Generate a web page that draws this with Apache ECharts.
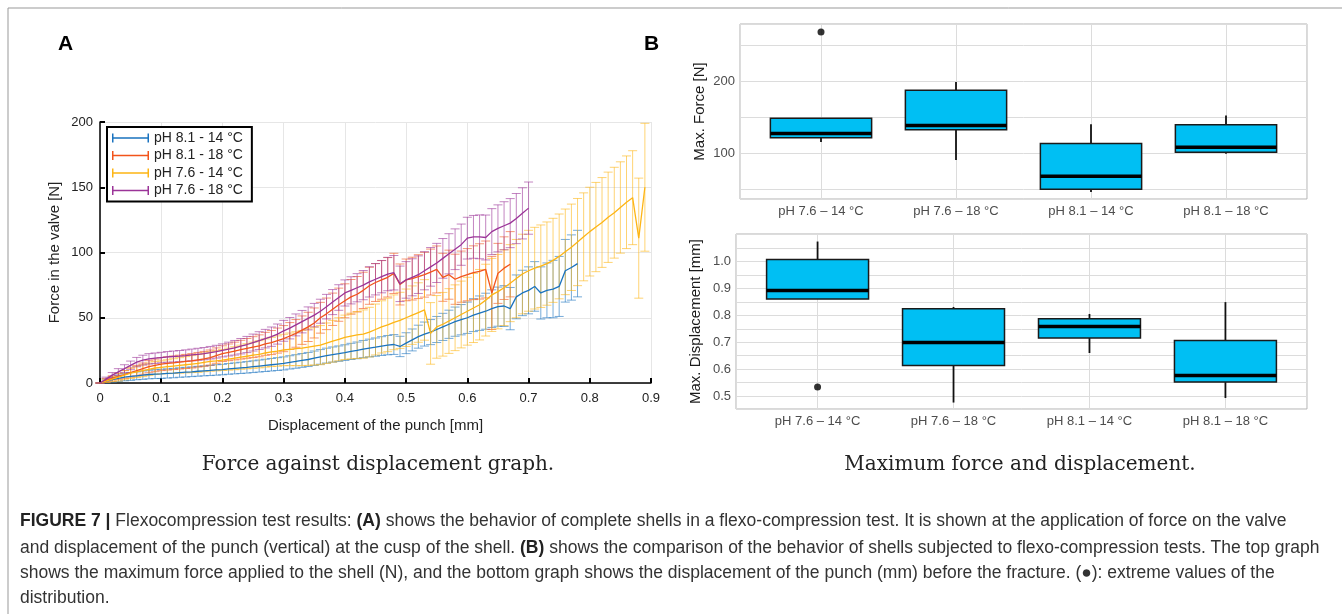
<!DOCTYPE html>
<html>
<head>
<meta charset="utf-8">
<script src="https://cdn.jsdelivr.net/npm/echarts@6/dist/echarts.min.js"></script>
<style>
html, body { margin: 0; padding: 0; background: #fff; }
#fig { width: 1342px; height: 614px; }
</style>
</head>
<body>
<div id="fig"></div>
<script>
// displacement of the punch [mm], common sampling grid
var disp = [0,0.01,0.02,0.03,0.04,0.05,0.06,0.07,0.08,0.09,
  0.1,0.11,0.12,0.13,0.14,0.15,0.16,0.17,0.18,0.19,
  0.2,0.21,0.22,0.23,0.24,0.25,0.26,0.27,0.28,0.29,
  0.3,0.31,0.32,0.33,0.34,0.35,0.36,0.37,0.38,0.39,
  0.4,0.41,0.42,0.43,0.44,0.45,0.46,0.47,0.48,0.49,
  0.5,0.51,0.52,0.53,0.54,0.55,0.56,0.57,0.58,0.59,
  0.6,0.61,0.62,0.63,0.64,0.65,0.66,0.67,0.68,0.69,
  0.7,0.71,0.72,0.73,0.74,0.75,0.76,0.77,0.78,0.79,
  0.8,0.81,0.82,0.83,0.84,0.85,0.86,0.87,0.88,0.89];

// pH 8.1 - 14 °C
var f81_14 = [0,1.5,2.5,3.5,4.5,5,5.5,6,6.5,6.8,
  7,7.3,7.6,8,8.3,8.6,9,9.3,9.6,10,
  10.3,10.8,11.2,11.6,12,12.5,13,13.5,14,14.5,
  15,15.8,16.5,17.3,18,19,20,21,21.8,22.5,
  23.3,24.2,25,26,26.8,27.5,28.3,29,29.5,28,
  30.5,33,35.5,37.5,39,41,43,45,47,48.5,
  50,52,53.5,55,57,58.5,59,57,66,69,
  71,74,69,71,72,74,86,88.5,91.5];
var e81_14 = [0,1.5,2,2.5,2.8,3,3,3.2,3.3,3.4,
  3.5,3.5,3.6,3.6,3.7,3.7,3.8,3.8,3.9,4,
  4,4.1,4.2,4.3,4.4,4.5,4.6,4.7,4.8,4.9,
  5,5.1,5.2,5.3,5.4,5.5,5.6,5.7,5.8,5.9,
  6,6.2,6.4,6.6,6.8,7,7.2,7.4,7.6,7.8,
  8,8.4,8.8,9.2,9.6,10,10.4,10.8,11.2,11.6,
  12,12.6,13.2,13.8,14.4,15,15.6,16.2,16.8,17.4,
  18,19,20,21,22,23,24,25,25.5];

// pH 8.1 - 18 °C
var f81_18 = [0,2,3.5,5,6.5,8,9.5,11,12.5,13.5,
  14.5,15,15.5,16,16.5,17,17.8,18.5,19.5,21,
  22.5,23.5,24.5,25.5,26.5,27.5,28.5,30,31,32.5,
  34,36,38,40.5,43,46,50,53,56.5,60,
  63,66,68,71,74.5,77,79,81,84,75.5,
  79,80,81.5,83,85,87,81,83,79.5,81.5,
  83,84.5,85.5,87,69,84,88,91];
var e81_18 = [0,1.5,2,2.5,3,3.5,4,4.3,4.6,4.8,
  5,5.1,5.2,5.3,5.4,5.5,5.6,5.7,5.8,5.9,
  6,6.4,6.8,7.2,7.6,8,8.4,8.8,9.2,9.6,
  10,10.3,10.6,10.9,11.2,11.5,11.8,12.1,12.4,12.7,
  13,13.3,13.6,13.9,14.2,14.5,14.8,15.1,15.4,15.7,
  16,16.4,16.8,17.2,17.6,18,18.4,18.8,19.2,19.6,
  20,20.6,21.2,21.8,28,23,24,25];

// pH 7.6 - 14 °C
var f76_14 = [0,1.5,3,4.5,6,7.5,8.5,9.5,10.5,11.5,
  12,12.5,13,13.5,14,14.5,15,15.8,16.5,17,
  17.6,18.3,19,19.8,20.5,21.3,22,23,23.8,24.5,
  25.3,25.8,26.3,26.8,27.5,28.3,29,30.5,32,33.5,
  35,36,36.8,37.5,39,41,43,44.5,46.5,48,
  50,52,54,56,38,43,45,47.5,50,52.5,
  55,57.5,60,63.5,67.5,70,73,76.5,80,83.5,
  86,88,89.5,91.5,94,97,100.5,104,108,112,
  116,119.5,123,127,130.5,134.5,138.5,142,111,150];
var e76_14 = [0,1,2,3,3.5,4,4.3,4.6,4.8,5,
  5,5.3,5.6,5.9,6.2,6.5,6.8,7.1,7.4,7.7,
  8,8.4,8.8,9.2,9.6,10,10.4,10.8,11.2,11.6,
  12,12.5,13,13.5,14,14.5,15,15.5,16,16.5,
  17,17.5,18,18.5,19,19.5,20,20.5,21,21.5,
  22,22.4,22.8,23.2,23.6,24,24.4,24.8,25.2,25.6,
  26,26.5,27,27.5,28,28.5,29,29.5,30,30.5,
  31,31.3,31.6,31.9,32.2,32.5,32.8,33.1,33.4,33.7,
  34,34.2,34.4,34.6,34.8,35,35.5,36,46,49];

// pH 7.6 - 18 °C
var f76_18 = [0,3,6,8.5,11,13.5,16,17.5,18.5,19,
  19.5,20,20.3,20.6,21,21.5,22,22.5,23.2,24,
  25,26,27,28.2,29.5,31,32.5,34,35.5,37.5,
  40,42,44.5,47,49.5,52,55,58.5,62,65.5,
  69,71,73,75,77.5,79.5,81.5,83.5,84.5,76,
  79,81,83,86,89,92,95.5,99,102.5,106,
  111,112,112,111.5,116,118.5,120.5,122.5,126,130,
  134];
var e76_18 = [0,1.5,2,2.5,3,3.3,3.6,3.8,4,4,
  4,4.1,4.2,4.3,4.4,4.5,4.6,4.7,4.8,4.9,
  5,5.3,5.6,5.9,6.2,6.5,6.8,7.1,7.4,7.7,
  8,8.2,8.4,8.6,8.8,9,9.2,9.4,9.6,9.8,
  10,10.4,10.8,11.2,11.6,12,12.4,12.8,13.2,13.6,
  14,14.2,14.4,14.6,14.8,15,15.2,15.4,15.6,15.8,
  16,16.4,16.8,17.2,17.6,18,18.4,18.8,19.2,19.6,
  20];

var lineNames = ['pH 8.1 - 14 °C', 'pH 8.1 - 18 °C', 'pH 7.6 - 14 °C', 'pH 7.6 - 18 °C'];
var lineColors = ['#1a73bf', '#f2541b', '#fdb515', '#9b3498'];
var lineMeans = [f81_14, f81_18, f76_14, f76_18];
var lineErrs = [e81_14, e81_18, e76_14, e76_18];

// panel B: boxplots [lower whisker, Q1, median, Q3, upper whisker]
var boxCats = ['pH 7.6 \u2013 14 °C', 'pH 7.6 \u2013 18 °C', 'pH 8.1 \u2013 14 °C', 'pH 8.1 \u2013 18 °C'];
var forceBox = [[116, 122, 128, 149, 149], [91, 133, 139, 188, 199.5], [46.7, 50.4, 68.5, 114, 140.7], [100, 102, 109, 140, 153]];
var forceOut = [[0, 269]];
var dispBox = [[0.861, 0.861, 0.892, 1.007, 1.074], [0.476, 0.614, 0.699, 0.824, 0.831], [0.66, 0.716, 0.758, 0.787, 0.805], [0.493, 0.552, 0.576, 0.706, 0.849]];
var dispOut = [[0, 0.534]];

var FONT = '"Liberation Sans", Arial, sans-serif';

function errBar(params, api) {
    var x = api.value(0), m = api.value(1), e = api.value(2);
    var top = api.coord([x, m + e]);
    var bot = api.coord([x, m - e]);
    var c = api.visual('color');
    var st = { stroke: c, lineWidth: 1, opacity: 0.6 };
    return {
        type: 'group',
        children: [
            { type: 'line', shape: { x1: top[0], y1: top[1], x2: bot[0], y2: bot[1] }, style: st },
            { type: 'line', shape: { x1: top[0] - 4.5, y1: top[1], x2: top[0] + 4.5, y2: top[1] }, style: st },
            { type: 'line', shape: { x1: bot[0] - 4.5, y1: bot[1], x2: bot[0] + 4.5, y2: bot[1] }, style: st }
        ]
    };
}

function boxItem(params, api) {
    var x = api.value(0);
    var lo = api.coord([x, api.value(1)]);
    var q1 = api.coord([x, api.value(2)]);
    var md = api.coord([x, api.value(3)]);
    var q3 = api.coord([x, api.value(4)]);
    var hi = api.coord([x, api.value(5)]);
    var hw = api.size([0.75, 0])[0] / 2;
    var ln = { stroke: '#111', lineWidth: 1.8 };
    return {
        type: 'group',
        children: [
            { type: 'line', shape: { x1: hi[0], y1: hi[1], x2: q3[0], y2: q3[1] }, style: ln },
            { type: 'line', shape: { x1: q1[0], y1: q1[1], x2: lo[0], y2: lo[1] }, style: ln },
            { type: 'rect', shape: { x: q3[0] - hw, y: q3[1], width: hw * 2, height: q1[1] - q3[1] },
              style: { fill: '#00bff3', stroke: '#1a1a1a', lineWidth: 1.5 } },
            { type: 'line', shape: { x1: md[0] - hw, y1: md[1], x2: md[0] + hw, y2: md[1] },
              style: { stroke: '#000', lineWidth: 3.5 } }
        ]
    };
}

function toBoxData(arr) {
    return arr.map(function (b, i) { return [i, b[0], b[1], b[2], b[3], b[4]]; });
}

var series = [];
for (var s = 0; s < 4; s++) {
    var pts = [], bars = [];
    for (var i = 0; i < lineMeans[s].length; i++) {
        pts.push([disp[i], lineMeans[s][i]]);
        bars.push([disp[i], lineMeans[s][i], lineErrs[s][i]]);
    }
    series.push({
        name: lineNames[s] + ' err',
        type: 'custom',
        xAxisIndex: 0, yAxisIndex: 0,
        renderItem: errBar,
        itemStyle: { color: lineColors[s] },
        encode: { x: 0, y: 1 },
        data: bars,
        silent: true
    });
    series.push({
        name: lineNames[s],
        type: 'line',
        xAxisIndex: 0, yAxisIndex: 0,
        showSymbol: false,
        symbol: 'none',
        color: lineColors[s],
        lineStyle: { width: 1.3, color: lineColors[s] },
        data: pts,
        silent: true
    });
}

series.push({
    type: 'custom', xAxisIndex: 1, yAxisIndex: 1,
    renderItem: boxItem, encode: { x: 0, y: [1, 2, 3, 4, 5] },
    data: toBoxData(forceBox), z: 3
});
series.push({
    type: 'scatter', xAxisIndex: 1, yAxisIndex: 1,
    symbolSize: 7, itemStyle: { color: '#000' }, data: forceOut, z: 4
});
series.push({
    type: 'custom', xAxisIndex: 2, yAxisIndex: 2,
    renderItem: boxItem, encode: { x: 0, y: [1, 2, 3, 4, 5] },
    data: toBoxData(dispBox), z: 3
});
series.push({
    type: 'scatter', xAxisIndex: 2, yAxisIndex: 2,
    symbolSize: 7, itemStyle: { color: '#000' }, data: dispOut, z: 4
});

var ebIcon = 'path://M0,0h1.5v9h-1.5z M0,3.8h37v1.4h-37z M35.5,0h1.5v9h-1.5z';

function catLabel(v) {
    return (Math.abs(v - Math.round(v)) < 1e-6 && v >= 0 && v <= 3) ? boxCats[Math.round(v)] : '';
}

var bX = {
    type: 'value', min: -0.6, max: 3.6, splitNumber: 4,
    axisLine: { show: false },
    axisTick: { show: false },
    axisLabel: { formatter: catLabel, color: '#4d4d4d', fontSize: 13, fontFamily: FONT, margin: 6 },
    splitLine: { show: true, lineStyle: { color: '#dcdcdc', width: 1 } }
};

var option = {
    animation: false,
    backgroundColor: '#fff',
    textStyle: { fontFamily: FONT },
    grid: [
        { left: 100, top: 122, width: 551, height: 261 },
        { left: 740, top: 24, width: 567, height: 175, show: true, borderColor: '#b3b3b3', borderWidth: 1, backgroundColor: 'transparent' },
        { left: 736, top: 234, width: 571, height: 175, show: true, borderColor: '#b3b3b3', borderWidth: 1, backgroundColor: 'transparent' }
    ],
    legend: {
        left: 107, top: 127,
        orient: 'vertical',
        data: lineNames.map(function (n) { return { name: n, icon: ebIcon }; }),
        itemWidth: 37, itemHeight: 9, itemGap: 3.5,
        padding: [4, 9, 4, 5],
        borderColor: '#000', borderWidth: 2, backgroundColor: '#fff',
        textStyle: { fontSize: 14, color: '#222', fontFamily: FONT },
        selectedMode: false
    },
    xAxis: [
        {
            gridIndex: 0, type: 'value', min: 0, max: 0.9, interval: 0.1,
            name: 'Displacement of the punch [mm]', nameLocation: 'middle', nameGap: 35,
            nameTextStyle: { fontSize: 15, color: '#222', fontFamily: FONT },
            axisLine: { onZero: false, lineStyle: { color: '#000', width: 1.5 } },
            axisTick: { inside: true, length: 5, lineStyle: { color: '#000', width: 2 } },
            axisLabel: { color: '#222', fontSize: 13, margin: 9, fontFamily: FONT },
            splitLine: { show: true, lineStyle: { color: '#e6e6e6', width: 1 } }
        },
        Object.assign({ gridIndex: 1 }, bX),
        Object.assign({ gridIndex: 2 }, bX)
    ],
    yAxis: [
        {
            gridIndex: 0, type: 'value', min: 0, max: 200, interval: 50,
            name: 'Force in the valve [N]', nameLocation: 'middle', nameGap: 38,
            nameTextStyle: { fontSize: 15, color: '#222', fontFamily: FONT },
            axisLine: { show: true, onZero: false, lineStyle: { color: '#000', width: 1.5 } },
            axisTick: { show: true, inside: true, length: 5, lineStyle: { color: '#000', width: 2 } },
            axisLabel: { color: '#222', fontSize: 13, margin: 7, fontFamily: FONT },
            splitLine: { show: true, lineStyle: { color: '#e6e6e6', width: 1 } }
        },
        {
            gridIndex: 1, type: 'value', min: 37, max: 280, splitNumber: 5,
            name: 'Max. Force [N]', nameLocation: 'middle', nameGap: 33,
            nameTextStyle: { fontSize: 15, color: '#1a1a1a', fontFamily: FONT },
            axisLine: { show: false }, axisTick: { show: false },
            axisLabel: {
                color: '#4d4d4d', fontSize: 13, margin: 5, fontFamily: FONT,
                formatter: function (v) { return (v === 100 || v === 200) ? String(v) : ''; }
            },
            splitLine: { show: true, lineStyle: { color: '#dcdcdc', width: 1 } }
        },
        {
            gridIndex: 2, type: 'value', min: 0.452, max: 1.102, splitNumber: 13,
            name: 'Max. Displacement [mm]', nameLocation: 'middle', nameGap: 33,
            nameTextStyle: { fontSize: 15, color: '#1a1a1a', fontFamily: FONT },
            axisLine: { show: false }, axisTick: { show: false },
            axisLabel: {
                color: '#4d4d4d', fontSize: 13, margin: 5, fontFamily: FONT,
                formatter: function (v) {
                    var r = Math.round(v * 10);
                    return (Math.abs(v * 10 - r) < 1e-6 && r >= 5 && r <= 10) ? (r / 10).toFixed(1) : '';
                }
            },
            splitLine: { show: true, lineStyle: { color: '#dcdcdc', width: 1 } }
        }
    ],
    series: series,
    graphic: [
        { type: 'line', shape: { x1: 8, y1: 8, x2: 1342, y2: 8 }, style: { stroke: '#999', lineWidth: 1 } },
        { type: 'line', shape: { x1: 8, y1: 8, x2: 8, y2: 614 }, style: { stroke: '#999', lineWidth: 1 } },
        { type: 'text', left: 58, top: 34, style: { text: 'A', fontSize: 21, fontWeight: 'bold', fontFamily: FONT, fill: '#000' } },
        { type: 'text', left: 644, top: 34, style: { text: 'B', fontSize: 21, fontWeight: 'bold', fontFamily: FONT, fill: '#000' } },
        { type: 'text', x: 378, y: 465, style: { text: 'Force against displacement graph.', fontSize: 20, fontFamily: '"DejaVu Serif", serif', fill: '#222', align: 'center', verticalAlign: 'middle' } },
        { type: 'text', x: 1020, y: 465, style: { text: 'Maximum force and displacement.', fontSize: 20, fontFamily: '"DejaVu Serif", serif', fill: '#222', align: 'center', verticalAlign: 'middle' } },
        { type: 'text', x: 20, y: 521, style: {
            text: '{b|FIGURE 7 |} Flexocompression test results: {b|(A)} shows the behavior of complete shells in a flexo-compression test. It is shown at the application of force on the valve',
            fontSize: 17.5, fontFamily: FONT, fill: '#333', verticalAlign: 'middle',
            rich: { b: { fontWeight: 'bold', fontSize: 17.5, fontFamily: FONT, fill: '#222' } } } },
        { type: 'text', x: 20, y: 548, style: {
            text: 'and displacement of the punch (vertical) at the cusp of the shell. {b|(B)} shows the comparison of the behavior of shells subjected to flexo-compression tests. The top graph',
            fontSize: 17.5, fontFamily: FONT, fill: '#333', verticalAlign: 'middle',
            rich: { b: { fontWeight: 'bold', fontSize: 17.5, fontFamily: FONT, fill: '#222' } } } },
        { type: 'text', x: 20, y: 573, style: {
            text: 'shows the maximum force applied to the shell (N), and the bottom graph shows the displacement of the punch (mm) before the fracture. (\u25CF): extreme values of the',
            fontSize: 17.5, fontFamily: FONT, fill: '#333', verticalAlign: 'middle' } },
        { type: 'text', x: 20, y: 598, style: {
            text: 'distribution.', fontSize: 17.5, fontFamily: FONT, fill: '#333', verticalAlign: 'middle' } }
    ]
};

var chart = echarts.init(document.getElementById('fig'));
chart.setOption(option);
</script>
</body>
</html>
